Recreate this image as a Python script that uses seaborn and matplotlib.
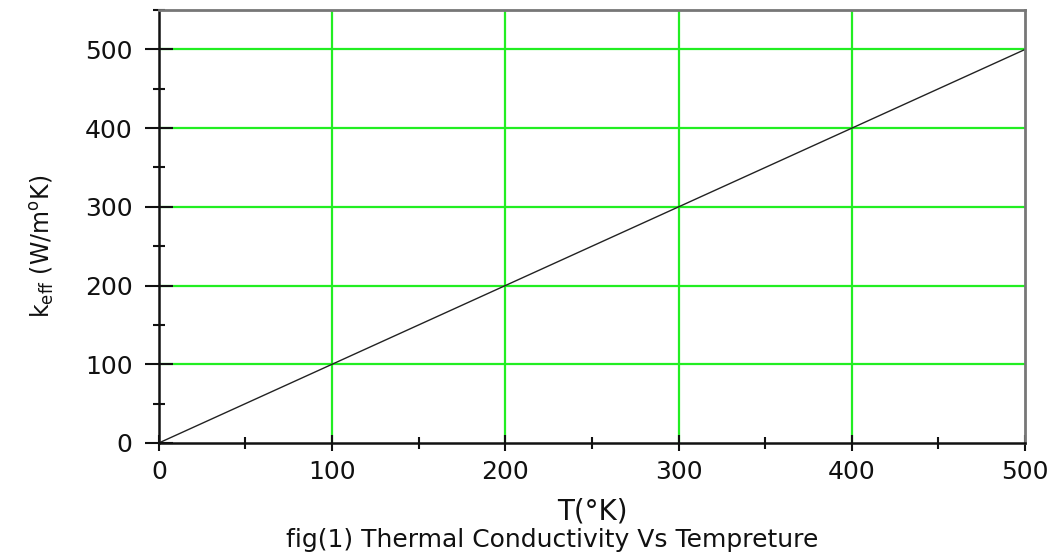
import matplotlib
matplotlib.use("Agg")
import matplotlib.pyplot as plt
import seaborn as sns
import pandas as pd
from matplotlib.ticker import MultipleLocator

temperature = [0, 50, 100, 150, 200, 250, 300, 350, 400, 450, 500]
k_eff = [0, 50, 100, 150, 200, 250, 300, 350, 400, 450, 500]

df = pd.DataFrame({"T": temperature, "k": k_eff})

sns.set_style("white")
plt.rcParams['font.family'] = ['DejaVu Sans']

fig = plt.figure(figsize=(10.59, 5.60), dpi=100)
ax = fig.add_axes([0.150, 0.209, 0.818, 0.773])

sns.lineplot(data=df, x="T", y="k", ax=ax, color="#222222", linewidth=1.0)

ax.set_xlim(0, 500)
ax.set_ylim(0, 550)
ax.xaxis.set_major_locator(MultipleLocator(100))
ax.xaxis.set_minor_locator(MultipleLocator(50))
ax.yaxis.set_major_locator(MultipleLocator(100))
ax.yaxis.set_minor_locator(MultipleLocator(50))

ax.grid(True, which="major", color="#22ee22", linewidth=1.6)
ax.set_axisbelow(True)
fig.canvas.draw()
for t in ax.xaxis.get_major_ticks():
    if t.get_loc() <= 0 or t.get_loc() >= 500:
        t.gridline.set_visible(False)
for t in ax.yaxis.get_major_ticks():
    if t.get_loc() <= 0:
        t.gridline.set_visible(False)

ax.tick_params(axis="y", which="major", direction="inout", length=20, width=1.5,
               labelsize=18, pad=9, colors="#111111")
ax.tick_params(axis="x", which="major", direction="inout", length=12, width=1.5,
               labelsize=18, pad=6, colors="#111111")
ax.tick_params(which="minor", direction="inout", length=8, width=1.5, colors="#111111")
ax.tick_params(axis="both", which="both", left=True, bottom=True, top=False, right=False)

for side in ["left", "bottom"]:
    ax.spines[side].set_color("#111111")
    ax.spines[side].set_linewidth(1.8)
for side in ["top", "right"]:
    ax.spines[side].set_color("#777777")
    ax.spines[side].set_linewidth(2.0)

ax.set_xlabel("T(°K)", fontsize=20, labelpad=10, color="#111111")
ax.set_ylabel(r"k$_{\mathrm{eff}}$ (W/m$^{\mathrm{o}}$K)", fontsize=17, color="#111111")
ax.yaxis.set_label_coords(-0.118, 0.455)

fig.text(0.521, 0.036, "fig(1) Thermal Conductivity Vs Tempreture", ha="center",
         va="center", fontsize=18, color="#111111")

fig.savefig("out.png", dpi=100)
